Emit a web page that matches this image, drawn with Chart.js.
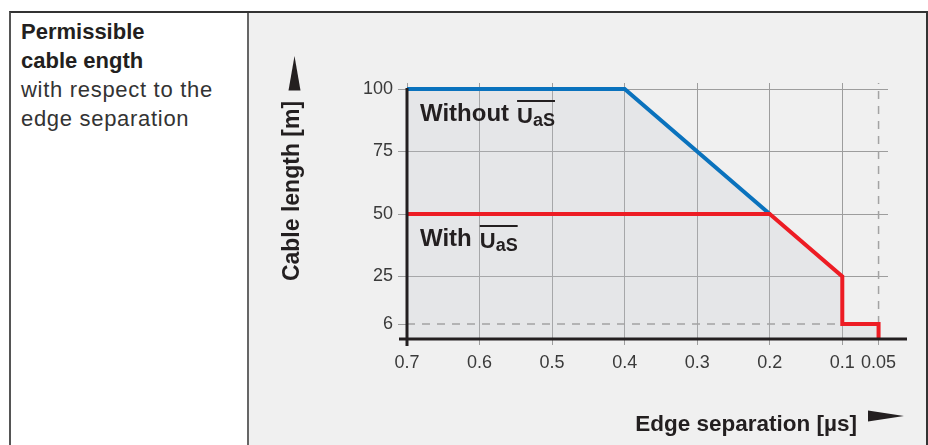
<!DOCTYPE html>
<html>
<head>
<meta charset="utf-8">
<script src="https://cdn.jsdelivr.net/npm/chart.js@4.4.1/dist/chart.umd.min.js"></script>
<style>
  html, body { margin: 0; padding: 0; background: #fff; }
  body { width: 928px; height: 445px; position: relative; overflow: hidden;
         font-family: "Liberation Sans", Arial, sans-serif; color: #231f20; }
  .frame { position: absolute; left: 9px; top: 11px; width: 919px; height: 434px;
           border-top: 2px solid #333; border-left: 2px solid #555; border-right: 2px solid #333;
           box-sizing: border-box; }
  .panel { position: absolute; left: 247px; top: 13px; width: 679px; height: 432px;
           background: #f0f0f0; border-left: 2px solid #666; box-sizing: border-box; }
  .caption { position: absolute; left: 21px; top: 17px; font-size: 22px; line-height: 29px; }
  .caption .b { font-weight: bold; }
  .caption .r { color: #333; letter-spacing: 0.7px; }
  canvas { position: absolute; left: 0; top: 0; }
</style>
</head>
<body>
<div class="frame"></div>
<div class="panel"></div>
<div class="caption">
  <div class="b">Permissible</div>
  <div class="b">cable ength</div>
  <div class="r">with respect to the</div>
  <div class="r">edge separation</div>
</div>
<canvas id="cableChart" width="928" height="445"></canvas>
<script>
// tick positions
const xTicks = [0.7, 0.6, 0.5, 0.4, 0.3, 0.2, 0.1, 0.05];
const yTicks = [6, 25, 50, 75, 100];

// "Without UaS" curve
const withoutX = [0.7, 0.4, 0.2];
const withoutY = [100, 100, 50];

// "With UaS" curve
const withX = [0.7, 0.2, 0.1, 0.1, 0.05, 0.05];
const withY = [50, 50, 25, 6, 6, 0];

// dashed guide values
const limitX = 0.05;
const limitY = 6;

const Y_MAX = 102.4;
const FONT = '"Liberation Sans", Arial, sans-serif';
const INK = "#231f20";
const GRID = "#9d9d9d";

const pts = (xs, ys) => xs.map((x, i) => ({ x: x, y: ys[i] }));
const withoutPts = pts(withoutX, withoutY);
const withPts = pts(withX, withY);
// shaded region = everything under the upper of the two curves
const areaPts = withoutPts.concat(withPts.filter(p => p.x < withoutX[withoutX.length - 1]));

function drawUaS(ctx, word, x, base) {
  ctx.font = "bold 24px " + FONT;
  ctx.fillText(word, x, base);
  const ux = x + ctx.measureText(word).width + 8;
  ctx.font = "bold 22px " + FONT;
  ctx.fillText("U", ux, base + 2);
  const sx = ux + ctx.measureText("U").width;
  ctx.font = "bold 18px " + FONT;
  ctx.fillText("aS", sx, base + 5);
  const ex = sx + ctx.measureText("aS").width;
  ctx.fillRect(ux, base - 21, ex - ux, 2);
}

const decorations = {
  id: "decorations",
  afterDatasetsDraw(chart) {
    const { ctx, chartArea, scales: { x, y } } = chart;
    const x0 = x.getPixelForValue(xTicks[0]);
    const y0 = y.getPixelForValue(0);
    ctx.save();
    ctx.strokeStyle = INK;
    ctx.lineWidth = 3;
    ctx.beginPath();
    ctx.moveTo(x0 - 8, y0);
    ctx.lineTo(chartArea.right + 19, y0);
    ctx.moveTo(x0, y0 + 7);
    ctx.lineTo(x0, y.getPixelForValue(100) - 1);
    ctx.stroke();
    ctx.restore();
  },
  afterDraw(chart) {
    const { ctx, scales: { x, y } } = chart;
    ctx.save();
    ctx.fillStyle = INK;
    ctx.textAlign = "left";
    ctx.textBaseline = "alphabetic";
    const lx = x.getPixelForValue(xTicks[0]) + 13;
    drawUaS(ctx, "Without", lx, y.getPixelForValue(withoutY[0]) + 32);
    drawUaS(ctx, "With", lx, y.getPixelForValue(withY[0]) + 32);

    // y title + arrow
    ctx.save();
    ctx.translate(299, 191);
    ctx.rotate(-Math.PI / 2);
    ctx.textAlign = "center";
    ctx.font = "bold 23px " + FONT;
    ctx.fillText("Cable length [m]", 0, 0);
    ctx.restore();
    ctx.beginPath();
    ctx.moveTo(288.5, 90.5);
    ctx.lineTo(300.5, 90.5);
    ctx.lineTo(294.5, 56);
    ctx.closePath();
    ctx.fill();

    // x title + arrow
    ctx.textAlign = "right";
    ctx.font = "bold 22.5px " + FONT;
    ctx.fillText("Edge separation [\u00b5s]", 857, 431);
    ctx.beginPath();
    ctx.moveTo(868, 410.5);
    ctx.lineTo(868, 421.5);
    ctx.lineTo(904, 416);
    ctx.closePath();
    ctx.fill();
    ctx.restore();
  }
};

const ctx = document.getElementById("cableChart").getContext("2d");
new Chart(ctx, {
  type: "scatter",
  data: {
    datasets: [
      {
        data: areaPts,
        showLine: true,
        borderWidth: 0,
        backgroundColor: "rgba(196, 200, 208, 0.25)",
        fill: "origin",
        pointRadius: 0,
        order: 10,
      },
      {
        data: [{ x: limitX, y: 0 }, { x: limitX, y: Y_MAX }],
        showLine: true,
        borderColor: "#a3a3a3",
        borderWidth: 1.5,
        borderDash: [8, 7],
        fill: false,
        pointRadius: 0,
        order: 5,
      },
      {
        data: [{ x: xTicks[0], y: limitY }, { x: limitX, y: limitY }],
        showLine: true,
        borderColor: "#a3a3a3",
        borderWidth: 1.5,
        borderDash: [8, 7],
        fill: false,
        pointRadius: 0,
        order: 5,
      },
      {
        label: "Without UaS",
        data: withoutPts,
        showLine: true,
        borderColor: "#0a72bd",
        borderWidth: 4,
        borderJoinStyle: "miter",
        fill: false,
        pointRadius: 0,
        order: 1,
      },
      {
        label: "With UaS",
        data: withPts,
        showLine: true,
        borderColor: "#ed1c24",
        borderWidth: 4,
        borderJoinStyle: "miter",
        fill: false,
        pointRadius: 0,
        order: 0,
      },
    ],
  },
  options: {
    responsive: false,
    animation: false,
    layout: { padding: { top: 83, right: 40, left: 0, bottom: 0 } },
    plugins: {
      legend: { display: false },
      tooltip: { enabled: false },
    },
    scales: {
      x: {
        type: "linear",
        reverse: true,
        min: 0.037,
        max: 0.7,
        afterBuildTicks: (s) => { s.ticks = xTicks.map((v) => ({ value: v })); },
        afterFit: (s) => { s.height = 106; },
        border: { display: false },
        grid: {
          color: (c) => (c.tick && c.tick.value === limitX ? "transparent" : GRID),
          tickColor: GRID,
          tickLength: 6,
          lineWidth: 1,
        },
        ticks: {
          autoSkip: false,
          maxRotation: 0,
          padding: 7,
          color: "#3a3a3a",
          font: { family: FONT, size: 18 },
          callback: (v) => String(v),
        },
      },
      y: {
        min: 0,
        max: Y_MAX,
        afterBuildTicks: (s) => { s.ticks = yTicks.map((v) => ({ value: v })); },
        afterFit: (s) => { s.width = 407; },
        border: { display: false },
        grid: {
          color: (c) => (c.tick && c.tick.value === limitY ? "transparent" : GRID),
          tickColor: GRID,
          tickLength: 9,
          lineWidth: 1,
        },
        ticks: {
          padding: 5,
          color: "#3a3a3a",
          font: { family: FONT, size: 18 },
          callback: (v) => String(v),
        },
      },
    },
  },
  plugins: [decorations],
});
</script>
</body>
</html>
